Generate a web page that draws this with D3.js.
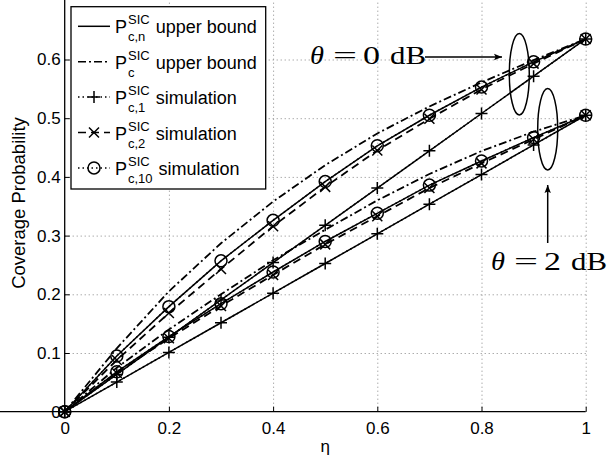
<!DOCTYPE html>
<html>
<head>
<meta charset="utf-8">
<script src="https://cdn.jsdelivr.net/npm/d3@7"></script>
<style>
  body { margin: 0; background: #fff; }
  svg { display: block; font-family: "Liberation Sans", Arial, sans-serif; }
</style>
</head>
<body>
<div id="chart"></div>
<script>
// eta values on the x axis
const eta = [0, 0.1, 0.2, 0.3, 0.4, 0.5, 0.6, 0.7, 0.8, 0.9, 1.0];

// theta = 0 dB
const pcBound0  = [0, 0.108, 0.205, 0.287, 0.358, 0.420, 0.474, 0.520, 0.561, 0.599, 0.635];
const pc10Bound0 = [0, 0.095, 0.179, 0.257, 0.326, 0.392, 0.453, 0.505, 0.553, 0.596, 0.635];
const pc1Bound0 = [0, 0.0635, 0.127, 0.1905, 0.254, 0.3175, 0.381, 0.4445, 0.508, 0.5715, 0.635];
const pc1Sim0   = [0, 0.0635, 0.127, 0.1905, 0.254, 0.3175, 0.381, 0.4445, 0.508, 0.5715, 0.635];
const pc2Sim0   = [0, 0.088, 0.168, 0.243, 0.316, 0.383, 0.445, 0.499, 0.549, 0.593, 0.635];
const pc10Sim0  = [0, 0.095, 0.179, 0.257, 0.326, 0.392, 0.453, 0.505, 0.553, 0.596, 0.635];

// theta = 2 dB
const pcBound2  = [0, 0.075, 0.140, 0.200, 0.258, 0.310, 0.360, 0.405, 0.444, 0.477, 0.505];
const pc10Bound2 = [0, 0.068, 0.128, 0.184, 0.238, 0.290, 0.338, 0.386, 0.427, 0.467, 0.505];
const pc1Bound2 = [0, 0.0505, 0.101, 0.1515, 0.202, 0.2525, 0.303, 0.3535, 0.404, 0.4545, 0.505];
const pc1Sim2   = [0, 0.0505, 0.101, 0.1515, 0.202, 0.2525, 0.303, 0.3535, 0.404, 0.4545, 0.505];
const pc2Sim2   = [0, 0.066, 0.125, 0.180, 0.233, 0.285, 0.333, 0.381, 0.423, 0.464, 0.505];
const pc10Sim2  = [0, 0.068, 0.128, 0.184, 0.238, 0.290, 0.338, 0.386, 0.427, 0.467, 0.505];

const xTicks = [0, 0.2, 0.4, 0.6, 0.8, 1];
const yTicks = [0, 0.1, 0.2, 0.3, 0.4, 0.5, 0.6];

const legendLabels = [
  { sub: "c,n", rest: "upper bound", line: "solid", marker: null },
  { sub: "c",   rest: "upper bound", line: "dashdot", marker: null },
  { sub: "c,1", rest: "simulation", line: "dotted", marker: "plus" },
  { sub: "c,2", rest: "simulation", line: "dashed", marker: "cross" },
  { sub: "c,10", rest: "simulation", line: "dotted", marker: "circle" }
];

const width = 607, height = 462;

const svg = d3.select("#chart").append("svg")
  .attr("width", width)
  .attr("height", height);

const x = d3.scaleLinear().domain([0, 1]).range([64.7, 585.7]);
const y = d3.scaleLinear().domain([0, 0.7]).range([411.7, 0.8]);

const dashes = {
  solid: null,
  dashed: "8,5",
  dashdot: "8,3,2,3",
  dotted: "1.5,3"
};

// grid
const grid = svg.append("g").attr("class", "grid")
  .attr("stroke", "#888")
  .attr("stroke-width", 1)
  .attr("stroke-dasharray", "1,3");

grid.selectAll(".vx")
  .data(xTicks.slice(1))
  .enter().append("line")
    .attr("x1", (d) => x(d) + 0.5)
    .attr("x2", (d) => x(d) + 0.5)
    .attr("y1", y(0))
    .attr("y2", 0);

grid.selectAll(".hy")
  .data(yTicks.slice(1))
  .enter().append("line")
    .attr("x1", x(0))
    .attr("x2", x(1))
    .attr("y1", (d) => y(d) + 0.5)
    .attr("y2", (d) => y(d) + 0.5);

// axes
const xAxis = svg.append("g")
  .attr("transform", "translate(0," + y(0) + ")")
  .call(d3.axisBottom(x).tickValues(xTicks).tickSize(-5).tickPadding(10)
    .tickFormat((d) => d === 0 ? "0" : d === 1 ? "1" : d3.format(".1f")(d)));

const yAxis = svg.append("g")
  .attr("transform", "translate(" + x(0) + ",0)")
  .call(d3.axisLeft(y).tickValues(yTicks).tickSize(-5).tickPadding(4)
    .tickFormat((d) => d === 0 ? "0" : d3.format(".1f")(d)));

[xAxis, yAxis].forEach((a) => {
  a.select(".domain").attr("stroke", "#000").attr("stroke-width", 1.3);
  a.selectAll(".tick line").attr("stroke", "#000");
  a.selectAll("text")
    .attr("font-family", "'Liberation Sans', Arial, sans-serif")
    .attr("font-size", 17)
    .attr("fill", "#000");
});

// extend y axis line to the top of the picture
yAxis.select(".domain").attr("d", "M0," + y(0) + "V0");
xAxis.select(".domain").attr("d", "M0,0H" + x(1));

// axis labels
svg.append("text")
  .attr("x", (x(0) + x(1)) / 2)
  .attr("y", 452)
  .attr("text-anchor", "middle")
  .attr("font-size", 17)
  .text("η");

svg.append("text")
  .attr("transform", "translate(25,203) rotate(-90)")
  .attr("text-anchor", "middle")
  .attr("font-size", 18.5)
  .text("Coverage Probability");

// curves
const line = d3.line()
  .x((d) => x(d[0]))
  .y((d) => y(d[1]));

const series = [
  { values: pcBound0, style: "dashdot" },
  { values: pcBound2, style: "dashdot" },
  { values: pc2Sim0, style: "dashed", marker: "cross" },
  { values: pc2Sim2, style: "dashed", marker: "cross" },
  { values: pc1Sim0, style: "dotted", marker: "plus" },
  { values: pc1Sim2, style: "dotted", marker: "plus" },
  { values: pc10Sim0, style: "dotted", marker: "circle" },
  { values: pc10Sim2, style: "dotted", marker: "circle" },
  { values: pc1Bound0, style: "solid" },
  { values: pc1Bound2, style: "solid" },
  { values: pc10Bound0, style: "solid" },
  { values: pc10Bound2, style: "solid" }
];

const curves = svg.append("g").attr("class", "curves");

curves.selectAll("path")
  .data(series)
  .enter().append("path")
    .attr("d", (s) => line(eta.map((e, i) => [e, s.values[i]])))
    .attr("fill", "none")
    .attr("stroke", "#000")
    .attr("stroke-width", (s) => s.style === "solid" || s.style === "dotted" ? 1.5 : 1.8)
    .attr("stroke-dasharray", (s) => dashes[s.style]);

function drawMarker(g, type, cx, cy) {
  if (type === "plus") {
    g.append("path")
      .attr("d", "M" + (cx - 6) + "," + cy + "H" + (cx + 6) + "M" + cx + "," + (cy - 6) + "V" + (cy + 6))
      .attr("stroke", "#000").attr("stroke-width", 1.5).attr("fill", "none");
  } else if (type === "cross") {
    g.append("path")
      .attr("d", "M" + (cx - 5) + "," + (cy - 5) + "L" + (cx + 5) + "," + (cy + 5) +
        "M" + (cx - 5) + "," + (cy + 5) + "L" + (cx + 5) + "," + (cy - 5))
      .attr("stroke", "#000").attr("stroke-width", 1.5).attr("fill", "none");
  } else if (type === "circle") {
    g.append("circle")
      .attr("cx", cx).attr("cy", cy).attr("r", 6)
      .attr("stroke", "#000").attr("stroke-width", 1.5).attr("fill", "none");
  }
}

const markers = svg.append("g").attr("class", "markers");
series.filter((s) => s.marker).forEach((s) => {
  eta.forEach((e, i) => drawMarker(markers, s.marker, x(e), y(s.values[i])));
});

// annotations
const defs = svg.append("defs");
defs.append("marker")
  .attr("id", "arrow")
  .attr("viewBox", "0 0 10 10")
  .attr("refX", 10).attr("refY", 5)
  .attr("markerWidth", 10).attr("markerHeight", 8)
  .attr("markerUnits", "userSpaceOnUse")
  .attr("orient", "auto")
.append("path")
  .attr("d", "M0,1L10,5L0,9L2,5Z")
  .attr("fill", "#000");

const ann = svg.append("g")
  .attr("font-family", "'Liberation Serif', 'Times New Roman', serif")
  .attr("font-size", 26)
  .attr("fill", "#000");

// pieces of "θ = n dB", stretched to the widths of the typeset original
function mathLabel(x0, base, numeral) {
  ann.append("text").attr("x", x0).attr("y", base).attr("font-style", "italic")
    .attr("textLength", 14).attr("lengthAdjust", "spacingAndGlyphs").text("θ");
  ann.append("text").attr("x", x0 + 23).attr("y", base)
    .attr("textLength", 24).attr("lengthAdjust", "spacingAndGlyphs").text("=");
  ann.append("text").attr("x", x0 + 53).attr("y", base)
    .attr("textLength", 17).attr("lengthAdjust", "spacingAndGlyphs").text(numeral);
  ann.append("text").attr("x", x0 + 80).attr("y", base)
    .attr("textLength", 36).attr("lengthAdjust", "spacingAndGlyphs").text("dB");
}

mathLabel(310, 64, "0");
mathLabel(491, 270, "2");

svg.append("line")
  .attr("x1", 425).attr("y1", 57)
  .attr("x2", 502).attr("y2", 57)
  .attr("stroke", "#000").attr("stroke-width", 1.5)
  .attr("marker-end", "url(#arrow)");

svg.append("line")
  .attr("x1", 547.7).attr("y1", 243)
  .attr("x2", 547.7).attr("y2", 185)
  .attr("stroke", "#000").attr("stroke-width", 1.5)
  .attr("marker-end", "url(#arrow)");

svg.append("ellipse")
  .attr("cx", 519.3).attr("cy", 74.2).attr("rx", 10).attr("ry", 40.8)
  .attr("fill", "none").attr("stroke", "#000").attr("stroke-width", 1.5);

svg.append("ellipse")
  .attr("cx", 547.7).attr("cy", 129.2).attr("rx", 10).attr("ry", 40.8)
  .attr("fill", "none").attr("stroke", "#000").attr("stroke-width", 1.5);

// legend
const legend = svg.append("g").attr("class", "legend");
legend.append("rect")
  .attr("x", 71).attr("y", 6.7)
  .attr("width", 194.7).attr("height", 182.3)
  .attr("fill", "#fff").attr("stroke", "#000").attr("stroke-width", 1.3);

legendLabels.forEach((d, i) => {
  const base = 33.3 + i * 35.4;
  const ly = base - 7;
  legend.append("line")
    .attr("x1", 78).attr("x2", 110)
    .attr("y1", ly).attr("y2", ly)
    .attr("stroke", "#000").attr("stroke-width", 1.5)
    .attr("stroke-dasharray", dashes[d.line]);
  if (d.marker) drawMarker(legend, d.marker, 94, ly);

  legend.append("text").attr("x", 115).attr("y", base).attr("font-size", 18).text("P");
  const sup = legend.append("text").attr("x", 128).attr("y", base - 9).attr("font-size", 13).text("SIC");
  const sub = legend.append("text").attr("x", 128).attr("y", base + 8).attr("font-size", 13).text(d.sub);
  const w = Math.max(sup.node().getComputedTextLength(), sub.node().getComputedTextLength());
  legend.append("text").attr("x", 128 + w + 6).attr("y", base).attr("font-size", 18).text(d.rest);
});
</script>
</body>
</html>
